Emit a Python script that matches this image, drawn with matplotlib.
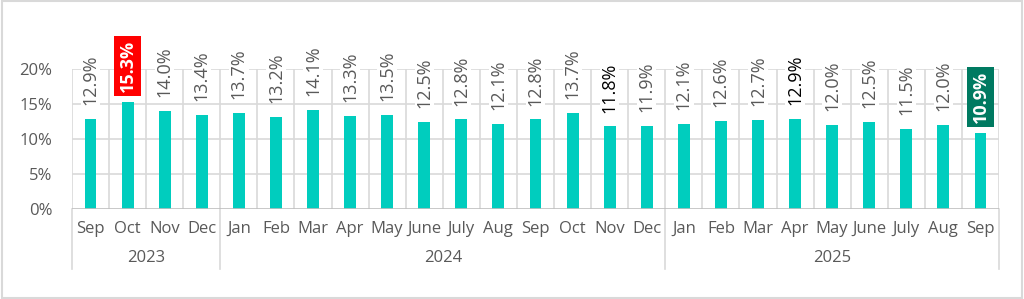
import matplotlib; matplotlib.use("Agg")
import matplotlib.pyplot as plt
import matplotlib.transforms as mtransforms
from matplotlib.patches import Rectangle

plt.rcParams['font.family'] = ['Open Sans', 'DejaVu Sans']

months = ["Sep", "Oct", "Nov", "Dec",
          "Jan", "Feb", "Mar", "Apr", "May", "June", "July", "Aug", "Sep", "Oct", "Nov", "Dec",
          "Jan", "Feb", "Mar", "Apr", "May", "June", "July", "Aug", "Sep"]
years = ["2023", "2024", "2025"]
year_counts = [4, 12, 9]
values = [12.9, 15.3, 14.0, 13.4,
          13.7, 13.2, 14.1, 13.3, 13.5, 12.5, 12.8, 12.1, 12.8, 13.7, 11.8, 11.9,
          12.1, 12.6, 12.7, 12.9, 12.0, 12.5, 11.5, 12.0, 10.9]
# label highlight: index -> (box colour, text colour, bold)
highlights = {1: ("#FF0000", "white", True), 24: ("#007A61", "white", True),
              14: (None, "black", False), 19: (None, "black", False)}

BAR = "#00CDBE"; GRID = "#D9D9D9"; TXT = "#595959"

fig = plt.figure(figsize=(10.24, 2.99), dpi=100)
ax = fig.add_axes([0.0703, 0.301, 0.9053, 0.468])
n = len(values)
x = list(range(n))
ax.bar(x, values, width=0.32, color=BAR, zorder=2)
ax.set_xlim(-0.5, n - 0.5)
ax.set_ylim(0, 20)
ax.set_yticks([0, 5, 10, 15, 20])
ax.set_yticklabels([f"{t}%" for t in [0, 5, 10, 15, 20]], fontsize=12, color=TXT)
ax.tick_params(axis='y', length=0, pad=14)
ax.set_xticks([])
for s in ax.spines.values():
    s.set_visible(False)
for t in [5, 10, 15, 20]:
    ax.axhline(t, color=GRID, lw=1.2, zorder=0)
for b in range(n + 1):
    ax.axvline(b - 0.5, color=GRID, lw=1.2, zorder=0)
ax.axhline(0, color="#BFBFBF", lw=1.2, zorder=3)

# value labels
for i, v in enumerate(values):
    face, col, bold = highlights.get(i, ("white", TXT, False))
    boxed = face not in (None, "white")
    bbox = dict(facecolor=face if boxed else "white", edgecolor="none", pad=3 if boxed else 0.5)
    ax.annotate(f"{v:.1f}%", (i, v), xytext=(0, 7 if boxed else 10), textcoords="offset points",
                rotation=90, ha="center", va="bottom", fontsize=13, color=col,
                fontweight="bold" if bold else "normal", bbox=bbox, zorder=4,
                annotation_clip=False)

# hierarchical category axis
trans = mtransforms.blended_transform_factory(ax.transData, ax.transAxes)
to_ax = lambda px: -px / (fig.bbox.height * 0.468)
for i, m in enumerate(months):
    ax.text(i, to_ax(20), m, transform=trans, ha="center", va="center", fontsize=12, color=TXT)
start = 0
bounds = [-0.5]
for yr, c in zip(years, year_counts):
    ax.text(start + (c - 1) / 2, to_ax(49), yr, transform=trans, ha="center", va="center",
            fontsize=12, color=TXT)
    start += c
    bounds.append(start - 0.5)
for b in bounds:
    ax.plot([b, b], [0, to_ax(60)], transform=trans, color=GRID, lw=1.2, clip_on=False)

fig.add_artist(Rectangle((0.002, 0.005), 0.996, 0.99, transform=fig.transFigure,
                         fill=False, edgecolor=GRID, lw=1.5))
fig.savefig("out.png", dpi=100)
